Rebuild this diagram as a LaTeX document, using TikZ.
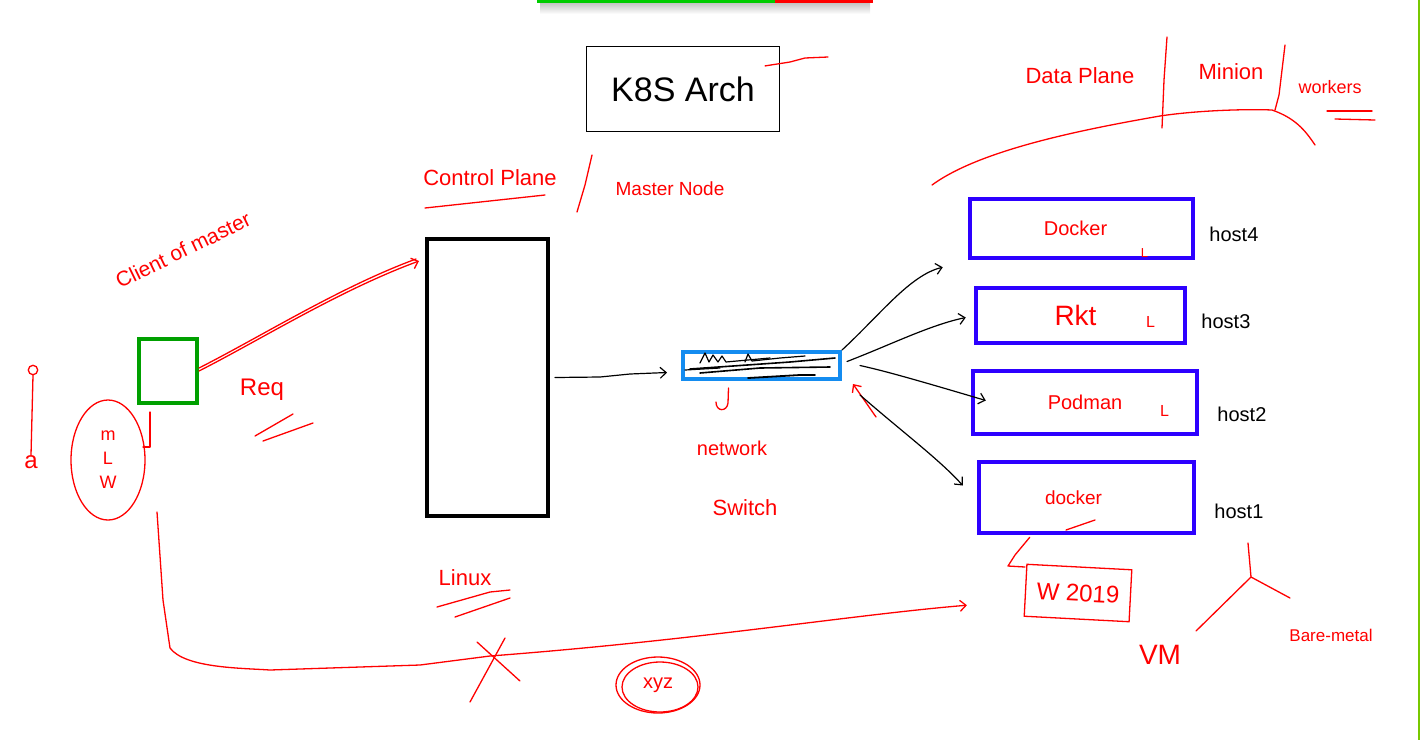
\documentclass[tikz,border=0pt]{standalone}
\usepackage{fontspec}
\setmainfont{Liberation Sans}
\usepackage{tikz}
\usetikzlibrary{positioning,calc,arrows.meta,shapes.geometric}
\definecolor{hostblue}{RGB}{45,0,255}
\definecolor{switchblue}{RGB}{20,140,240}
\definecolor{clientgreen}{RGB}{0,160,0}
\definecolor{edgegreen}{RGB}{120,200,0}

\begin{document}
\begin{tikzpicture}[x=1pt,y=-1pt,
  ink/.style={red,line width=1.3pt,line cap=round,line join=round},
  pen/.style={black,line width=1.2pt,line cap=round,line join=round},
  redtxt/.style={red,inner sep=0pt},
  blacktxt/.style={black,inner sep=0pt},
  hostbox/.style={draw=hostblue,line width=4.5pt,text=red,font=\fontsize{20}{22}\selectfont},
  tip/.style={-{Straight Barb[length=6pt,width=11pt]}}]
\useasboundingbox (0,0) rectangle (1421,740);
% screen bits
\shade[top color=black!25,bottom color=white] (540,2) rectangle (870,14);
\draw[line width=3pt,green!80!black] (537,1) -- (775,1);
\draw[line width=3pt,red] (775,1) -- (873,1);
\draw[edgegreen,line width=1.5pt] (1419,0) -- (1419,740);

% title
\node[draw,line width=1.2pt,minimum width=193,minimum height=85,font=\fontsize{34}{36}\selectfont] (title) at (683,89) {K8S Arch};
\draw[ink] ($(title.north east)+(-15,20)$) -- (790,62) -- (805,58) -- (828,57);

% control plane
\node[draw,line width=4pt,minimum width=121,minimum height=277] (master) at (487.5,377.5) {};
\node[redtxt,font=\fontsize{22}{24}\selectfont] (cp) at (490,178) {Control Plane};
\draw[ink] (425,208) -- (545,195);
\draw[ink] (592,155) -- (585,185) -- (577,212);
\node[redtxt,font=\fontsize{19}{21}\selectfont] (mn) at (670,189) {Master Node};
\node[redtxt,font=\fontsize{22}{24}\selectfont] (linux) at (465,578) {Linux};
\draw[ink] (437,607) -- (490,592) -- (510,590);
\draw[ink] (455,617) -- (510,598);

% client
\node[draw=clientgreen,line width=4pt,minimum width=58,minimum height=64] (client) at (168,371) {};
\node[redtxt,rotate=26,font=\fontsize{21}{23}\selectfont] (com) at (183,250) {Client of master};
\draw[ink,tip] (client.east) .. controls (260,340) and (340,290) .. ($(master.north west)+(-6,24)$);
\draw[ink] ($(client.east)+(0,-3)$) .. controls (262,336) and (340,287) .. ($(master.north west)+(-9,22)$);
\node[redtxt,font=\fontsize{24}{26}\selectfont] (req) at (262,390) {Req};
\draw[ink] (255,436) -- (293,414);
\draw[ink] (263,441) -- (313,423);
\draw[ink] ($(client.south west)+(13,7)$) -- (150,447) -- (143,447);
\node[draw=red,line width=1.3pt,ellipse,minimum width=74,minimum height=120,redtxt,font=\fontsize{18}{24}\selectfont,align=center] (mlw) at (108,460) {m\\L\\W};
\node[draw=red,line width=1.3pt,circle,minimum size=9] (head) at (33,370) {};
\node[redtxt,font=\fontsize{24}{26}\selectfont] (foot) at (31,462) {a};
\draw[ink] (head.south) -- (foot.north);

% network switch
\node[draw=switchblue,line width=4pt,minimum width=157,minimum height=27] (switch) at (761.5,365.5) {};
\draw[pen] (700,363) -- (705,353) -- (709,362) -- (713,355) -- (718,362) -- (722,356) -- (726,362) -- (770,358);
\draw[pen] (745,362) -- (748,354) -- (752,361) -- (780,358) -- (805,356);
\draw[pen,line width=1.6pt] (690,369) -- (790,362) -- (835,358);
\draw[pen,line width=1.6pt] (700,373) -- (760,368) -- (830,367);
\draw[pen,line width=1.8pt] (748,378) -- (800,375) -- (815,375);
\draw[pen] (685,370) -- (720,368);
\draw[pen,tip] (master.east) ++(5,0) -- (600,377) -- (630,374) -- ($(switch.west)+(-14,7)$);
\draw[ink] ($(switch.south)+(-33,7)$) -- (728,403) .. controls (727,412) and (716,412) .. (716,402);
\node[redtxt,font=\fontsize{20}{22}\selectfont] (net) at (732,448) {network};
\node[redtxt,font=\fontsize{22}{24}\selectfont] (sw) at (745,508) {Switch};
\draw[ink,tip] (876,417) -- ($(switch.south east)+(11,3)$);

% data plane
\node[hostbox,minimum width=223,minimum height=59] (docker4) at (1081.5,228.5) {\hspace*{-12pt}Docker};
\node[hostbox,minimum width=209,minimum height=55,font=\fontsize{28}{30}\selectfont] (rkt3) at (1080.5,315.5) {\hspace*{-10pt}Rkt};
\node[hostbox,minimum width=224,minimum height=63] (podman2) at (1085,402.5) {Podman};
\node[hostbox,minimum width=215,minimum height=71,font=\fontsize{19}{21}\selectfont] (docker1) at (1086.5,497.5) {\hspace*{-26pt}docker};
\node[redtxt,font=\fontsize{13}{15}\selectfont,above left=3pt and 47pt of docker4.south east] (l4) {L};
\node[redtxt,font=\fontsize{16}{18}\selectfont,left=32pt of rkt3.east,yshift=-6pt] (l3) {L};
\node[redtxt,font=\fontsize{16}{18}\selectfont,left=30pt of podman2.east,yshift=-8pt] (l2) {L};
\draw[ink] (1066,530) -- (1095,520);
\node[blacktxt,font=\fontsize{20}{22}\selectfont,right=14pt of docker4,yshift=-6pt] (h4) {host4};
\node[blacktxt,font=\fontsize{20}{22}\selectfont,right=14pt of rkt3,yshift=-6pt] (h3) {host3};
\node[blacktxt,font=\fontsize{20}{22}\selectfont,right=18pt of podman2,yshift=-12pt] (h2) {host2};
\node[blacktxt,font=\fontsize{20}{22}\selectfont,right=18pt of docker1,yshift=-14pt] (h1) {host1};
\draw[pen,tip] (switch.north east) .. controls (880,315) and (910,275) .. ($(docker4.south west)+(-25,7)$);
\draw[pen,tip] ($(switch.east)+(5,-4)$) .. controls (890,345) and (930,325) .. ($(rkt3.west)+(-8,2)$);
\draw[pen,tip] ($(switch.east)+(18,0)$) .. controls (880,370) and (900,375) .. ($(podman2.west)+(15,-2)$);
\draw[pen,tip] ($(switch.south east)+(18,14)$) .. controls (900,430) and (940,460) .. ($(docker1.west)+(-14,-12)$);
\node[draw=red,line width=1.3pt,minimum width=105,minimum height=52,redtxt,font=\fontsize{24}{26}\selectfont,rotate=-3] (w2019) at (1078,593) {W 2019};
\draw[ink] ($(docker1.south west)+(53,2)$) -- (1015,555) -- (1008,566) -- (w2019.west |- 0,567);
\coordinate (fork) at (1251,577);
\node[redtxt,font=\fontsize{28}{30}\selectfont] (vm) at (1160,655) {VM};
\node[redtxt,font=\fontsize{17}{19}\selectfont] (bm) at (1331,635) {Bare-metal};
\draw[ink] (1248,543) -- (fork) -- (1196,631);
\draw[ink] (fork) -- (1290,598);
\node[redtxt,font=\fontsize{22}{24}\selectfont] (dp) at (1080,76) {Data Plane};
\node[redtxt,font=\fontsize{22}{24}\selectfont] (minion) at (1231,72) {Minion};
\node[redtxt,font=\fontsize{18}{20}\selectfont] (wk) at (1330,87) {workers};
\draw[ink] (1167,37) -- (1164,80) -- (1162,128);
\draw[ink] (1285,45) -- (1279,95) -- (1275,110);
\draw[ink] (1327,111) -- (1372,111);
\draw[ink] (1335,119) -- (1375,120);
\draw[ink] (932,185) .. controls (980,150) and (1080,130) .. (1160,116) .. controls (1200,110) and (1250,109) .. (1272,110) .. controls (1295,118) and (1305,130) .. (1315,145);

% bottom wire
\coordinate (wire) at (157,512);
\draw[ink,tip] (wire) -- (163,600) -- (170,648) .. controls (185,668) and (240,668) .. (270,670) -- (420,665) -- (490,656) .. controls (700,640) and (850,615) .. ($(w2019.west)+(-58,15)$);
\draw[ink] (477,642) -- (520,681);
\draw[ink] (470,702) -- (505,638);
\node[redtxt,font=\fontsize{20}{22}\selectfont] (xyz) at (658,685) {xyz};
\draw[ink] (658,685) ellipse (42 and 28);
\draw[ink] (660,687) ellipse (38 and 25);
\end{tikzpicture}
\end{document}
